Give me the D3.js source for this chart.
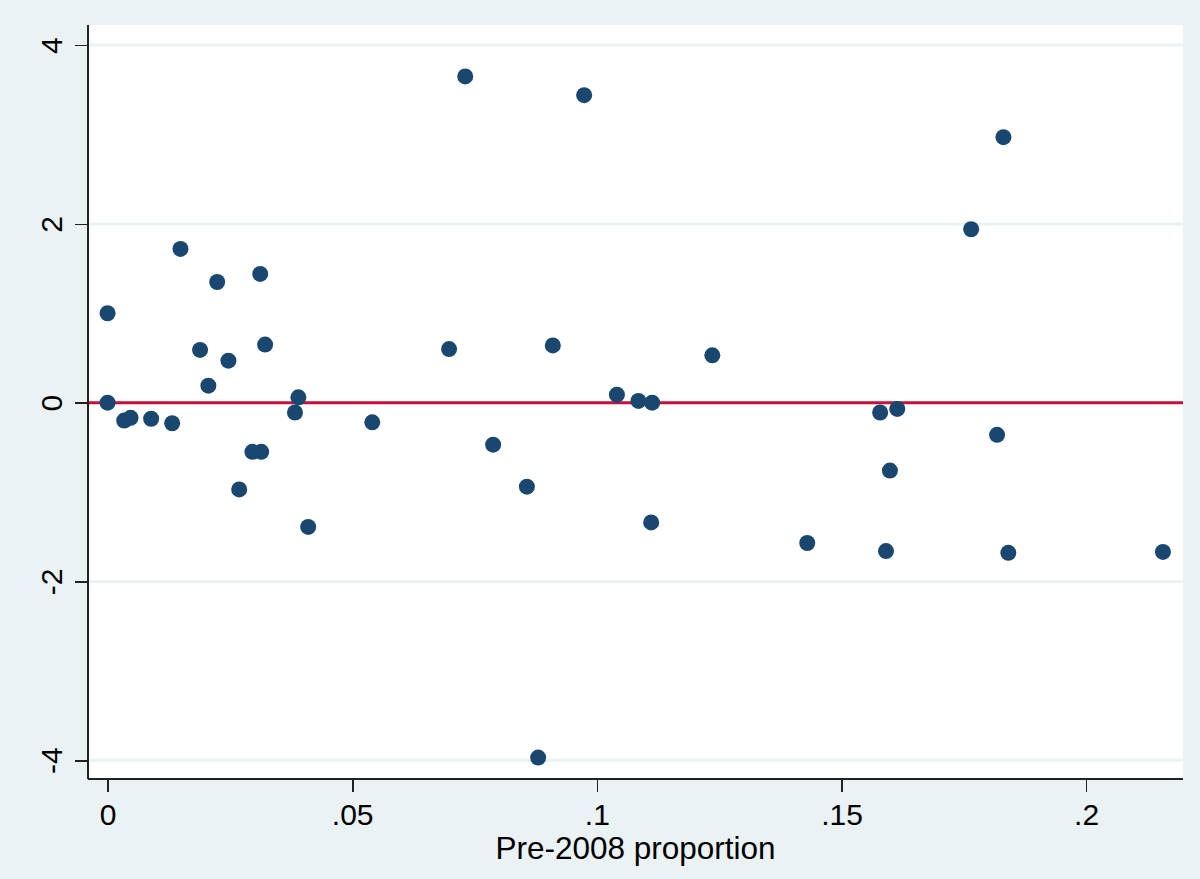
<html>
<head>
<meta charset="utf-8">
<title>scatter</title>
<style>
    body { margin: 0; background: #EAF2F3; }
    .axis text { font-family: "Liberation Sans", Arial, sans-serif; font-size: 30px; fill: #000; }
    .axis .title { font-size: 31.5px; }
    .axis path, .axis line { stroke: #222; stroke-width: 1.6px; shape-rendering: crispEdges; }
</style>
<script src="https://cdnjs.cloudflare.com/ajax/libs/d3/7.8.5/d3.min.js"></script>
</head>
<body>
<script>
    // pre-2008 proportion (x) and residual (y)
    var xValues = [0, 0, 0.0034, 0.0047, 0.0089, 0.0132, 0.0149, 0.0189, 0.0206, 0.0224,
        0.0247, 0.0269, 0.0296, 0.0314, 0.0312, 0.0322, 0.0383, 0.0390, 0.0410, 0.0541,
        0.0698, 0.0731, 0.0788, 0.0857, 0.0880, 0.0910, 0.0974, 0.1041, 0.1085, 0.1113,
        0.1111, 0.1236, 0.1430, 0.1579, 0.1591, 0.1599, 0.1614, 0.1765, 0.1818, 0.1831,
        0.1841, 0.2157];
    var yValues = [1.00, 0.00, -0.20, -0.17, -0.18, -0.23, 1.72, 0.59, 0.19, 1.35,
        0.47, -0.97, -0.55, -0.55, 1.44, 0.65, -0.11, 0.06, -1.39, -0.22,
        0.60, 3.65, -0.47, -0.94, -3.97, 0.64, 3.44, 0.09, 0.02, 0.00,
        -1.34, 0.53, -1.57, -0.11, -1.66, -0.76, -0.07, 1.94, -0.36, 2.97,
        -1.68, -1.67];
    var xTicks = [0, 0.05, 0.1, 0.15, 0.2];
    var xTickLabels = ["0", ".05", ".1", ".15", ".2"];
    var yTicks = [-4, -2, 0, 2, 4];
    var yTickLabels = ["-4", "-2", "0", "2", "4"];
    var xTitle = "Pre-2008 proportion";

    var W = 1200, H = 879;
    var box = { left: 88, top: 25, right: 1183, bottom: 779 };

    var x = d3.scaleLinear().domain([-0.004, 0.2198]).range([box.left, box.right]);
    var y = d3.scaleLinear().domain([-4.21, 4.225]).range([box.bottom, box.top]);

    var svg = d3.select("body").append("svg")
        .attr("width", W)
        .attr("height", H);

    svg.append("rect")
        .attr("width", W).attr("height", H)
        .attr("fill", "#EAF2F3");

    svg.append("rect")
        .attr("x", box.left).attr("y", box.top)
        .attr("width", box.right - box.left)
        .attr("height", box.bottom - box.top)
        .attr("fill", "#fff");

    // grid
    svg.selectAll(".grid")
        .data(yTicks)
        .enter()
        .append("line")
        .attr("x1", box.left).attr("x2", box.right)
        .attr("y1", function(d) { return y(d); })
        .attr("y2", function(d) { return y(d); })
        .attr("stroke", "#EAF2F3")
        .attr("stroke-width", 3);

    // zero line
    svg.append("line")
        .attr("x1", box.left).attr("x2", box.right)
        .attr("y1", y(0)).attr("y2", y(0))
        .attr("stroke", "#C4123A")
        .attr("stroke-width", 3);

    var xAxis = d3.axisBottom(x)
        .tickValues(xTicks)
        .tickSize(13)
        .tickPadding(12)
        .tickFormat(function(d, i) { return xTickLabels[i]; });

    var gx = svg.append("g")
        .attr("class", "axis")
        .attr("transform", "translate(0," + box.bottom + ")")
        .call(xAxis);
    gx.select(".domain").attr("d", "M" + box.left + ",0H" + box.right);

    gx.append("text")
        .attr("class", "title")
        .attr("x", (box.left + box.right) / 2)
        .attr("y", 80)
        .style("text-anchor", "middle")
        .text(xTitle);

    var yAxis = d3.axisLeft(y)
        .tickValues(yTicks)
        .tickSize(13)
        .tickFormat(function(d, i) { return yTickLabels[i]; });

    var gy = svg.append("g")
        .attr("class", "axis")
        .attr("transform", "translate(" + box.left + ",0)")
        .call(yAxis);
    gy.select(".domain").attr("d", "M0," + box.top + "V" + box.bottom);

    gy.selectAll(".tick text")
        .attr("x", null).attr("dy", null)
        .attr("transform", "translate(-26,0) rotate(-90)")
        .style("text-anchor", "middle");

    svg.selectAll(".dot")
        .data(xValues)
        .enter()
        .append("circle")
        .attr("class", "dot")
        .attr("cx", function(d) { return x(d); })
        .attr("cy", function(d, i) { return y(yValues[i]); })
        .attr("r", 8)
        .attr("fill", "#1A476F");
</script>
</body>
</html>
